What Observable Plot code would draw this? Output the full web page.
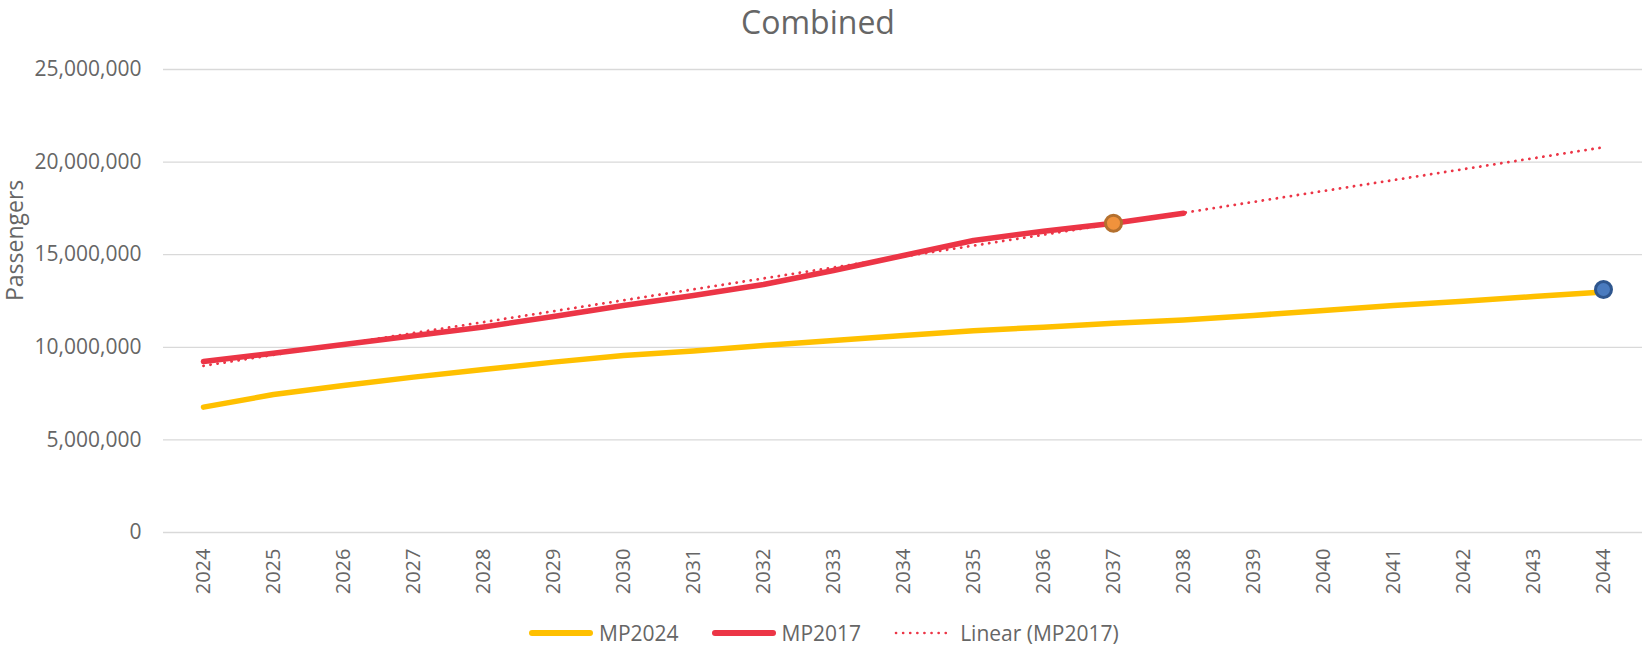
<!DOCTYPE html>
<html>
<head>
<meta charset="utf-8">
<script src="https://cdn.jsdelivr.net/npm/d3@7"></script>
<script src="https://cdn.jsdelivr.net/npm/@observablehq/plot@0.6"></script>
<style>
  html, body { margin: 0; padding: 0; background: #fff; }
  body { width: 1645px; height: 649px; position: relative; overflow: hidden; font-family: "Open Sans", sans-serif; color: #666; }
  #title { position: absolute; left: 0; top: 0; width: 1636px; height: 44px; text-align: center; font-size: 32px; line-height: 44px; }
  #chart { position: absolute; left: 0; top: 40px; }
  #legend { position: absolute; left: 529px; top: 619px; height: 28px; display: flex; align-items: center; font-size: 21px; line-height: 28px; }
  .item { display: flex; align-items: center; margin-right: 33px; }
  .item svg { margin-right: 6px; }
</style>
</head>
<body>
<div id="title">Combined</div>
<div id="chart"></div>
<div id="legend"></div>
<script>
// Category axis (years)
const years = [2024, 2025, 2026, 2027, 2028, 2029, 2030, 2031, 2032, 2033, 2034,
               2035, 2036, 2037, 2038, 2039, 2040, 2041, 2042, 2043, 2044];

// MP2024 series (passengers), 2024–2044
const mp2024Values = [6770000, 7450000, 7940000, 8390000, 8800000, 9200000, 9560000,
                      9800000, 10100000, 10370000, 10640000, 10900000, 11080000, 11300000,
                      11470000, 11720000, 11990000, 12260000, 12490000, 12740000, 12980000];

// MP2017 series (passengers), 2024–2038
const mp2017Years = [2024, 2025, 2026, 2027, 2028, 2029, 2030, 2031, 2032, 2033, 2034,
                     2035, 2036, 2037, 2038];
const mp2017Values = [9230000, 9680000, 10150000, 10620000, 11100000, 11660000, 12260000,
                      12800000, 13390000, 14150000, 14960000, 15770000, 16270000, 16700000,
                      17240000];

// Linear (MP2017) trendline end points as read
const trendYears = [2024, 2044];
const trendValues = [9000000, 20800000];

// Highlighted points
const markerMP2017 = [{year: 2037, value: 16700000}];
const markerMP2024 = [{year: 2044, value: 13120000}];

// Y ticks
const yTicks = [0, 5000000, 10000000, 15000000, 20000000, 25000000];

// Axis title and legend entries
const yTitle = ["Passengers"];
const legendLabels = ["MP2024", "MP2017", "Linear (MP2017)"];

const YELLOW = "#FFC000";
const RED = "#EC3546";

const mp2024 = years.map((y, i) => ({year: y, value: mp2024Values[i]}));
const mp2017 = mp2017Years.map((y, i) => ({year: y, value: mp2017Values[i]}));
const trend = trendYears.map((y, i) => ({year: y, value: trendValues[i]}));

const chart = Plot.plot({
  width: 1645,
  height: 570,
  marginLeft: 163,
  marginRight: 3,
  marginTop: 29,
  marginBottom: 78,
  style: {fontFamily: "Open Sans", fontSize: "20px", color: "#666", background: "white", overflow: "visible"},
  x: {type: "point", domain: years, padding: 0.5, align: 0.5},
  y: {domain: [0, 25000000]},
  marks: [
    Plot.gridY(yTicks, {stroke: "#d9d9d9", strokeOpacity: 1, strokeWidth: 1.3}),
    Plot.axisY(yTicks, {tickSize: 0, tickPadding: 22, tickFormat: d3.format(","), fontSize: 21, label: null}),
    Plot.axisX(years, {tickSize: 0, tickRotate: -90, tickPadding: 16, fontSize: 20, label: null, tickFormat: d => String(d)}),
    Plot.text(yTitle, {text: d => d, frameAnchor: "left", rotate: -90, dx: -148, fontSize: 23, fill: "#666"}),
    Plot.lineY(mp2024, {x: "year", y: "value", stroke: YELLOW, strokeWidth: 5.5, strokeLinecap: "round", strokeLinejoin: "round"}),
    Plot.lineY(mp2017, {x: "year", y: "value", stroke: RED, strokeWidth: 5.5, strokeLinecap: "round", strokeLinejoin: "round"}),
    Plot.lineY(trend, {x: "year", y: "value", stroke: RED, strokeWidth: 2.8, strokeLinecap: "round", strokeDasharray: "0.1 7"}),
    Plot.dot(markerMP2017, {x: "year", y: "value", r: 8, fill: "#F0923C", stroke: "#B4702E", strokeWidth: 3}),
    Plot.dot(markerMP2024, {x: "year", y: "value", r: 8, fill: "#4A7BBF", stroke: "#2E568E", strokeWidth: 3})
  ]
});
document.getElementById("chart").appendChild(chart);

// Legend
const legend = document.getElementById("legend");
const swatches = [
  `<svg width="64" height="10"><line x1="3" y1="5" x2="61" y2="5" stroke="${YELLOW}" stroke-width="6" stroke-linecap="round"/></svg>`,
  `<svg width="64" height="10"><line x1="3" y1="5" x2="61" y2="5" stroke="${RED}" stroke-width="6" stroke-linecap="round"/></svg>`,
  `<svg width="60" height="10"><line x1="2" y1="5" x2="58" y2="5" stroke="${RED}" stroke-width="2.6" stroke-linecap="round" stroke-dasharray="0.1 7"/></svg>`
];
legendLabels.forEach((lab, i) => {
  const d = document.createElement("div");
  d.className = "item";
  d.innerHTML = swatches[i] + `<span>${lab}</span>`;
  legend.appendChild(d);
});
</script>
</body>
</html>
